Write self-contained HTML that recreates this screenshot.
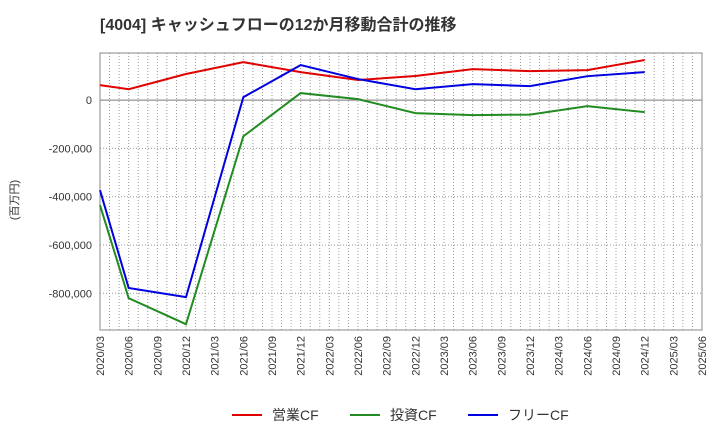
<!DOCTYPE html>
<html><head><meta charset="utf-8"><style>
body{margin:0;background:#fff;font-family:"Liberation Sans","Noto Sans CJK JP",sans-serif;}
</style></head><body>
<svg id="c" width="720" height="440" xmlns="http://www.w3.org/2000/svg">
<text x="100" y="30" font-size="16" font-weight="bold" fill="#333" font-family="Liberation Sans, Noto Sans CJK JP, sans-serif">[4004]  キャッシュフローの12か月移動合計の推移</text>
<text transform="translate(18,200) rotate(-90)" text-anchor="middle" font-size="11" fill="#333" font-family="Liberation Sans, Noto Sans CJK JP, sans-serif">(百万円)</text>
<g id="grid"></g><g id="axes"></g><g id="series"></g><g id="legend"></g>
</svg>
<script>
const labels=["2020/03","2020/06","2020/09","2020/12","2021/03","2021/06","2021/09","2021/12","2022/03","2022/06","2022/09","2022/12","2023/03","2023/06","2023/09","2023/12","2024/03","2024/06","2024/09","2024/12","2025/03","2025/06"];
const yTicks=[0,-200000,-400000,-600000,-800000];
const yTickLabels=["0","-200,000","-400,000","-600,000","-800,000"];
const idx=[0,1,3,5,7,9,11,13,15,17,19];
const opCF=[62000,45000,108000,157000,116000,83000,100000,128000,120000,124000,166000];
const invCF=[-435000,-820000,-928000,-150000,29000,4000,-54000,-62000,-60000,-25000,-50000];
const freeCF=[-373000,-778000,-816000,12000,145000,87000,45000,66000,58000,99000,116000];
const NS="http://www.w3.org/2000/svg";
const L=100,R=702,T=53,B=330,yMax=195000,yMin=-952000;
const xs=i=>L+i*(R-L)/(labels.length-1);
const ys=v=>T+(yMax-v)/(yMax-yMin)*(B-T);
function mk(tag,attrs,parent){const e=document.createElementNS(NS,tag);for(const k in attrs)e.setAttribute(k,attrs[k]);document.getElementById(parent).appendChild(e);return e;}
for(let m=1;m<(labels.length-1)*3;m++){
 const x=xs(m/3);
 const g=mk("line",{x1:x,x2:x,y1:T,y2:B,stroke:"#999","stroke-dasharray":"1,2","stroke-width":1},"grid");
 
 
}
labels.forEach((lab,i)=>{
 const t=mk("text",{transform:`translate(${xs(i)+4},${B+6}) rotate(-90)`,"text-anchor":"end","font-size":11,fill:"#333"},"axes");
 t.textContent=lab;
 
 
});
yTicks.forEach((v,i)=>{
 const g=mk("line",{x1:L,x2:R,y1:ys(v),y2:ys(v),stroke:v===0?"#777":"#999","stroke-dasharray":v===0?"none":"1,2","stroke-width":1},"grid");
 
 
 const t=mk("text",{x:L-8,y:ys(v)+4,"text-anchor":"end","font-size":11,fill:"#333"},"axes");
 t.textContent=yTickLabels[i];
 
 
});
const f=mk("rect",{x:L,y:T,width:R-L,height:B-T,fill:"none",stroke:"#888"},"axes");


const ser=[["営業CF",opCF,"#e00000","operating-cf-line"],["投資CF",invCF,"#228b22","investing-cf-line"],["フリーCF",freeCF,"#0000e0","free-cf-line"]];
ser.forEach(([name,vals,col,dn],k)=>{
 const p=mk("polyline",{points:vals.map((v,i)=>xs(idx[i])+","+ys(v)).join(" "),fill:"none",stroke:col,"stroke-width":2},"series");
 
 
 const lx=232+k*118;
 const ll=mk("line",{x1:lx,x2:lx+30,y1:415,y2:415,stroke:col,"stroke-width":2},"legend");
 
 
 const lt=mk("text",{x:lx+40,y:420,"font-size":14,fill:"#333"},"legend");
 lt.textContent=name;
 
 
});
</script>
</body></html>
